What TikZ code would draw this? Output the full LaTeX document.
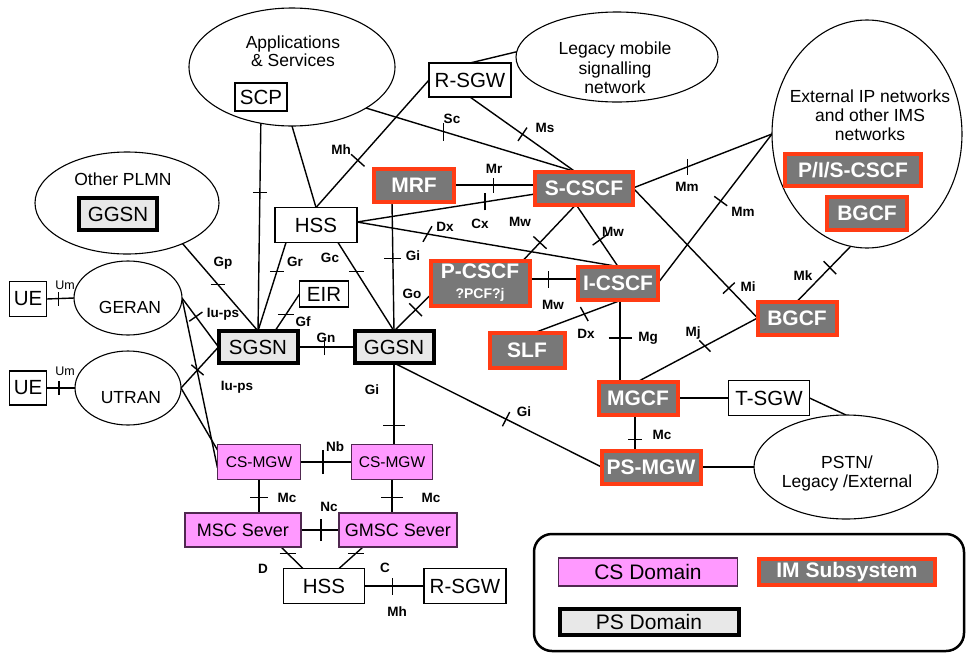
\documentclass[tikz,border=0pt]{standalone}
\usepackage{fontspec}
\setmainfont{Liberation Sans}
\usetikzlibrary{shapes.geometric,calc}
\definecolor{imsred}{RGB}{255,60,20}
\definecolor{imsgray}{RGB}{120,120,120}
\definecolor{psgray}{RGB}{232,232,232}
\definecolor{cspink}{RGB}{255,153,255}
\definecolor{csline}{RGB}{80,40,80}
\pgfdeclarelayer{bg}
\pgfsetlayers{bg,main}
\begin{document}
\begin{tikzpicture}[x=1pt,y=-1pt,line width=1.3pt,
  base/.style={inner sep=0pt,outer sep=0pt},
  box/.style={base,draw,line width=1.1pt,fill=white,font=\fontsize{20.5}{24}\selectfont},
  psbox/.style={base,draw,line width=4pt,fill=psgray,font=\fontsize{20.5}{24}\selectfont},
  imsbox/.style={base,draw=imsred,line width=4pt,fill=imsgray,text=white,font=\fontsize{21}{24}\selectfont\bfseries},
  csbox/.style={base,draw=csline,line width=1.1pt,fill=cspink,font=\fontsize{15.5}{18}\selectfont},
  cloud/.style={base,ellipse,draw,line width=1.1pt,fill=white},
  cloudtext/.style={anchor=base,inner sep=0pt,font=\fontsize{17.5}{21}\selectfont},
  lbl/.style={inner sep=0pt,font=\fontsize{13.5}{16}\selectfont\bfseries},
  link/.style={line width=1.4pt},
  tk/.pic={\draw[line width=1.4pt] (-#1/2,0) -- (#1/2,0);}
]
\useasboundingbox (0,0) rectangle (967,654);

% ---------- surrounding networks ----------
\node[cloud,minimum width=206pt,minimum height=118pt] (apps) at (292,67) {};
\node[cloudtext] (appsA) at (293,48) {Applications};
\node[cloudtext] (appsB) at (293,66) {\& Services};

\node[cloud,minimum width=202pt,minimum height=90pt] (legacy) at (617,57) {};
\node[cloudtext] (legA) at (615,54) {Legacy mobile};
\node[cloudtext] (legB) at (615,74) {signalling};
\node[cloudtext] (legC) at (615,93) {network};

\node[cloud,minimum width=184pt,minimum height=102pt] (other) at (127,203) {};
\node[cloudtext] (otherT) at (123,185) {Other PLMN};

\node[cloud,minimum width=108pt,minimum height=74pt] (geran) at (128,298) {};
\node[cloudtext] (geranT) at (130,313) {GERAN};
\node[cloud,minimum width=106pt,minimum height=74pt] (utran) at (128,388) {};
\node[cloudtext] (utranT) at (131,403) {UTRAN};

\node[cloud,minimum width=190pt,minimum height=228pt] (ext) at (867,134) {};
\node[cloudtext] (extA) at (870,102) {External IP networks};
\node[cloudtext] (extB) at (870,121) {and other IMS};
\node[cloudtext] (extC) at (870,140) {networks};

\node[cloud,minimum width=184pt,minimum height=104pt] (pstn) at (846,467) {};
\node[cloudtext] (pstnA) at (847,468) {PSTN/};
\node[cloudtext] (pstnB) at (847,487) {Legacy /External};

% ---------- plain network elements ----------
\node[box,minimum width=52pt,minimum height=28pt] (scp) at (261,97) {SCP};
\node[box,minimum width=82pt,minimum height=35pt] (hssT) at (316,225) {HSS};
\node[box,minimum width=82pt,minimum height=34pt] (rsgwT) at (470,80) {R-SGW};
\node[box,minimum width=49pt,minimum height=26pt] (eir) at (324,294) {EIR};
\node[box,minimum width=37pt,minimum height=35pt] (ue1) at (28,299) {UE};
\node[box,minimum width=37pt,minimum height=34pt] (ue2) at (28,388) {UE};
\node[box,minimum width=81pt,minimum height=35pt] (hssB) at (324,586) {HSS};
\node[box,minimum width=82pt,minimum height=35pt] (rsgwB) at (465,586) {R-SGW};
\node[box,minimum width=81pt,minimum height=35pt] (tsgw) at (769,398) {T-SGW};

% ---------- PS domain ----------
\node[psbox,minimum width=78pt,minimum height=32pt] (ggsnO) at (118,214) {GGSN};
\node[psbox,minimum width=79pt,minimum height=32pt] (sgsn) at (258,347) {SGSN};
\node[psbox,minimum width=79pt,minimum height=32pt] (ggsn) at (394,347) {GGSN};

% ---------- CS domain ----------
\node[csbox,minimum width=83pt,minimum height=35pt] (csmgw1) at (259,462) {CS-MGW};
\node[csbox,minimum width=81pt,minimum height=35pt] (csmgw2) at (392,462) {CS-MGW};
\node[csbox,minimum width=116pt,minimum height=34pt,font=\fontsize{18}{21}\selectfont] (msc) at (243,530) {MSC Sever};
\node[csbox,minimum width=118pt,minimum height=34pt,font=\fontsize{18}{21}\selectfont] (gmsc) at (398,530) {GMSC Sever};

% ---------- IM subsystem ----------
\node[imsbox,minimum width=80pt,minimum height=33pt] (mrf) at (414,185) {MRF};
\node[imsbox,minimum width=98pt,minimum height=33pt] (scscf) at (584,188) {S-CSCF};
\node[imsbox,minimum width=99pt,minimum height=45pt,align=center] (pcscf) at (480,283)
  {P-CSCF\\[-4pt]{\fontsize{14}{16}\selectfont ?PCF?j}};
\node[imsbox,minimum width=80pt,minimum height=33pt] (icscf) at (618,283) {I-CSCF};
\node[imsbox,minimum width=75pt,minimum height=35pt] (slf) at (527,350) {SLF};
\node[imsbox,minimum width=79pt,minimum height=33pt] (mgcf) at (638,398) {MGCF};
\node[imsbox,minimum width=99pt,minimum height=33pt] (psmgw) at (651,467) {PS-MGW};
\node[imsbox,minimum width=79pt,minimum height=33pt] (bgcf) at (797,318) {BGCF};
\node[imsbox,minimum width=136pt,minimum height=32pt] (pis) at (853,170) {P/I/S-CSCF};
\node[imsbox,minimum width=80pt,minimum height=33pt] (bgcf2) at (867,213) {BGCF};

% ---------- interfaces ----------
\begin{pgfonlayer}{bg}
\begin{scope}[link]
\draw (scp.south) -- pic[pos=.37]{tk=14} (sgsn.north);
\draw (apps.south) -- (hssT.north);
\draw (apps.-29) -- pic[pos=.37,rotate=90]{tk=18} ([xshift=-9pt]scscf.north);
\draw (rsgwT.south) -- pic[pos=.5,rotate=56]{tk=16} ([xshift=-9pt]scscf.north);
\draw (rsgwT.west) -- pic[pos=.63,rotate=-42]{tk=18} (hssT.north);
\draw (rsgwT.north) -- (legacy.177);
\draw (mrf.east) -- pic[pos=.49,rotate=90]{tk=15} (scscf.west |- mrf.east);
\draw ([yshift=3pt]hssT.east) -- pic[pos=.72,rotate=90]{tk=17} ([yshift=-6pt]scscf.west);
\draw ([yshift=3pt]hssT.east) -- pic[pos=.27,rotate=60]{tk=18} (icscf.north);
\draw ([xshift=-22pt]mrf.south) -- pic[pos=.44]{tk=17} (ggsn.north);
\draw ([xshift=22pt]hssT.south) -- pic[pos=.33]{tk=15} (ggsn.north);
\draw ([yshift=-12pt]pcscf.west) -- pic[pos=.41,rotate=-45]{tk=18} (ggsn.north);
\draw ([xshift=-30pt]hssT.south) -- pic[pos=.33]{tk=14} (sgsn.north);
\draw (eir.west) -- pic[pos=.56]{tk=16} ([xshift=17pt]sgsn.north);
\draw (ggsnO.east) -- pic[pos=.6]{tk=14} (sgsn.north);
\draw (sgsn.east) -- pic[pos=.47,rotate=90]{tk=16} (ggsn.west);
\draw (ue1.east) -- pic[pos=.44,rotate=90]{tk=14} (geran.west);
\draw (ue2.east) -- pic[pos=.44,rotate=90]{tk=14} (utran.west);
\draw (geran.east) -- pic[pos=.38,rotate=35]{tk=16} (sgsn.west);
\draw (geran.east) -- ([yshift=-6pt]csmgw1.west);
\draw (utran.east) -- pic[pos=.44,rotate=-40]{tk=16} (sgsn.west);
\draw (utran.east) -- ([yshift=12pt]csmgw1.west);
\draw (ggsn.south) -- pic[pos=.77]{tk=22} (ggsn.south |- csmgw2.north);
\draw (ggsn.south) -- pic[pos=.54,rotate=63]{tk=16} (psmgw.west);
\draw (csmgw1.east) -- pic[pos=.44,rotate=90]{tk=24} (csmgw2.west);
\draw (csmgw1.south) -- pic[pos=.53]{tk=18} (csmgw1.south |- msc.north);
\draw (csmgw2.south) -- pic[pos=.53]{tk=22} (csmgw2.south |- gmsc.north);
\draw (msc.east) -- pic[pos=.53,rotate=90]{tk=22} (gmsc.west);
\draw ([xshift=38pt]msc.south) -- pic[pos=.3]{tk=16} ([xshift=-21pt]hssB.north);
\draw ([xshift=-35pt]gmsc.south) -- pic[pos=.3]{tk=16} ([xshift=15pt]hssB.north);
\draw (hssB.east) -- pic[pos=.47,rotate=90]{tk=17} (rsgwB.west);
\draw ([xshift=-8pt]scscf.south) -- pic[pos=.68,rotate=-43]{tk=18} ([xshift=43pt]pcscf.north);
\draw ([xshift=-8pt]scscf.south) -- pic[pos=.57,rotate=36]{tk=18} (icscf.north);
\coordinate (pce) at ([yshift=4pt]pcscf.east);
\draw (pce) -- pic[pos=.39,rotate=90]{tk=17} (pce -| icscf.west);
\draw ([xshift=5pt]icscf.south) -- pic[pos=.44,rotate=-61]{tk=16} ([xshift=8pt]slf.north);
\draw ([xshift=2pt]icscf.south) -- pic[pos=.47]{tk=23} ([xshift=-18pt]mgcf.north);
\draw (scscf.east) -- pic[pos=.39,rotate=90]{tk=16} (ext.west);
\draw (icscf.east) -- pic[pos=.55,rotate=-36]{tk=16} (ext.west);
\draw (scscf.east) -- pic[pos=.77,rotate=43]{tk=16} (bgcf.west);
\draw (bgcf.west) -- pic[pos=.44,rotate=-45]{tk=16} (mgcf.north);
\draw (bgcf.north) -- pic[pos=.47,rotate=-46]{tk=18} (bgcf2.south);
\draw (mgcf.east) -- (tsgw.west);
\draw (tsgw.east) -- (pstn.north);
\draw ([xshift=-3pt]mgcf.south) -- pic[pos=.7]{tk=14} ([xshift=-16pt]psmgw.north);
\draw (psmgw.east) -- (pstn.west);
\end{scope}
\end{pgfonlayer}

% ---------- interface names ----------
\node[lbl] (lSc) at (452,119) {Sc};
\node[lbl] (lMs) at (545,128) {Ms};
\node[lbl] (lMh) at (341,150) {Mh};
\node[lbl] (lMr) at (494,169) {Mr};
\node[lbl] (lCx) at (480,224) {Cx};
\node[lbl] (lDx) at (445,227) {Dx};
\node[lbl] (lGi) at (413,256) {Gi};
\node[lbl] (lGc) at (330,258) {Gc};
\node[lbl] (lGo) at (412,294) {Go};
\node[lbl] (lGr) at (295,262) {Gr};
\node[lbl] (lGf) at (303,322) {Gf};
\node[lbl] (lGp) at (223,263) {Gp};
\node[lbl] (lGn) at (326,338) {Gn};
\node[inner sep=0pt,font=\fontsize{12.5}{15}\selectfont] (lUm1) at (65,285) {Um};
\node[inner sep=0pt,font=\fontsize{12.5}{15}\selectfont] (lUm2) at (65,371) {Um};
\node[lbl] (lIu1) at (223,314) {Iu-ps};
\node[lbl] (lIu2) at (237,387) {Iu-ps};
\node[lbl] (lGi2) at (372,390) {Gi};
\node[lbl] (lGi3) at (524,412) {Gi};
\node[lbl] (lNb) at (335,447) {Nb};
\node[lbl] (lMc1) at (287,498) {Mc};
\node[lbl] (lMc2) at (431,498) {Mc};
\node[lbl] (lNc) at (329,507) {Nc};
\node[lbl] (lD) at (263,569) {D};
\node[lbl] (lC) at (385,568) {C};
\node[lbl] (lMh2) at (397,612) {Mh};
\node[lbl] (lMw1) at (520,222) {Mw};
\node[lbl] (lMw2) at (613,232) {Mw};
\node[lbl] (lMw3) at (553,305) {Mw};
\node[lbl] (lDx2) at (586,334) {Dx};
\node[lbl] (lMg) at (648,338) {Mg};
\node[lbl] (lMm1) at (687,187) {Mm};
\node[lbl] (lMm2) at (743,212) {Mm};
\node[lbl] (lMi) at (748,287) {Mi};
\node[lbl] (lMj) at (693,333) {Mj};
\node[lbl] (lMk) at (803,276) {Mk};
\node[lbl] (lMc3) at (662,435) {Mc};

% ---------- key ----------
\node[base,draw,line width=2.5pt,rounded corners=18pt,minimum width=430pt,minimum height=117pt] (legend) at (749,592.5) {};
\node[csbox,minimum width=179pt,minimum height=28pt,font=\fontsize{21}{24}\selectfont] (csL) at (648,572) {CS Domain};
\node[imsbox,minimum width=176pt,minimum height=26pt] (imL) at (847,572) {IM Subsystem};
\node[psbox,minimum width=179pt,minimum height=26pt,font=\fontsize{21}{24}\selectfont] (psL) at (649,622) {PS Domain};
\end{tikzpicture}
\end{document}
